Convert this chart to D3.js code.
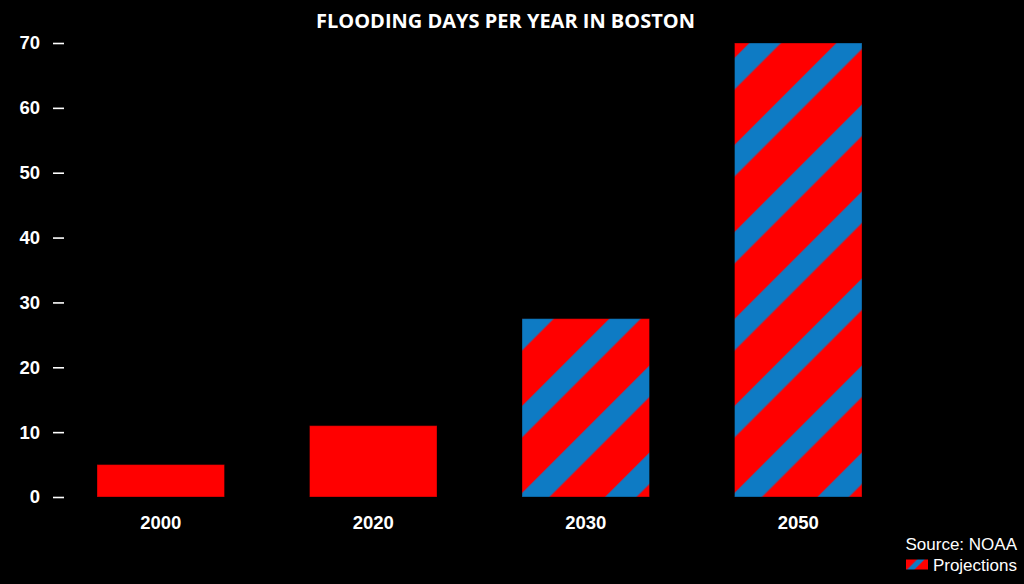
<!DOCTYPE html>
<html>
<head>
<meta charset="utf-8">
<script src="https://cdn.jsdelivr.net/npm/d3@7"></script>
<style>
  html, body { margin: 0; padding: 0; background: #000; }
  svg { display: block; }
</style>
</head>
<body>
<script>
// ---- data ----
const years = ["2000", "2020", "2030", "2050"];
const floodDays = [5, 11, 27.5, 70];
const isProjection = [false, false, true, true];
const yTicks = [0, 10, 20, 30, 40, 50, 60, 70];
const titleText = "FLOODING DAYS PER YEAR IN BOSTON";
const sourceText = "Source: NOAA";
const legendText = "Projections";

const W = 1024, H = 584;
const RED = "#ff0000", BLUE = "#0e7bc4";

const svg = d3.select("body").append("svg")
  .attr("width", W).attr("height", H)
  .style("background", "#000");

svg.append("rect").attr("width", W).attr("height", H).attr("fill", "#000");

const x = d3.scaleBand().domain(years).range([12, 947]).paddingInner(0.4).paddingOuter(0.4);
const y = d3.scaleLinear().domain([0, 70]).range([497, 43]);

const defs = svg.append("defs");
const P = 87 / Math.SQRT2; // stripe period perpendicular

const data = years.map((yr, i) => ({ year: yr, value: floodDays[i], proj: isProjection[i] }));

data.forEach((d, i) => {
  if (!d.proj) return;
  const x0 = x(d.year), y0 = y(0);
  const pat = defs.append("pattern")
    .attr("id", "stripe" + i)
    .attr("patternUnits", "userSpaceOnUse")
    .attr("width", P).attr("height", 10)
    .attr("patternTransform", `translate(${x0},${y0}) rotate(45)`);
  pat.append("rect").attr("width", P).attr("height", 10).attr("fill", RED);
  pat.append("rect").attr("x", 0).attr("width", 19.4).attr("height", 10).attr("fill", BLUE);
  pat.append("rect").attr("x", P - 2.8).attr("width", 2.8).attr("height", 10).attr("fill", BLUE);
});

// bars
svg.append("g").selectAll("rect.bar").data(data).join("rect")
  .attr("class", "bar")
  .attr("x", d => x(d.year))
  .attr("y", d => y(d.value))
  .attr("width", x.bandwidth())
  .attr("height", d => y(0) - y(d.value))
  .attr("fill", (d, i) => d.proj ? `url(#stripe${i})` : RED)
  .attr("stroke", "rgba(0,0,0,0.35)")
  .attr("stroke-width", 1);

// y axis
const yAxis = svg.append("g")
  .attr("transform", "translate(64,0)")
  .call(d3.axisLeft(y).tickValues(yTicks).tickSize(11).tickPadding(13).tickFormat(d3.format("d")));
yAxis.select(".domain").remove();
yAxis.selectAll(".tick line").attr("stroke", "#fff").attr("stroke-width", 1.6);
yAxis.selectAll(".tick text")
  .attr("fill", "#fff")
  .style("font-family", "'Liberation Sans', Arial, sans-serif")
  .style("font-weight", "bold")
  .style("font-size", "18.5px");

// x labels
const xAxis = svg.append("g")
  .attr("transform", `translate(0,${y(0)})`)
  .call(d3.axisBottom(x).tickSize(0).tickPadding(0));
xAxis.select(".domain").remove();
xAxis.selectAll(".tick text")
  .attr("fill", "#fff")
  .attr("dy", null)
  .attr("y", 31.5)
  .style("font-family", "'Liberation Sans', Arial, sans-serif")
  .style("font-weight", "bold")
  .style("font-size", "18.5px");

// title
svg.append("text")
  .attr("x", 505.5).attr("y", 27.5)
  .attr("text-anchor", "middle")
  .attr("fill", "#fff")
  .style("font-family", "'Open Sans', sans-serif")
  .style("font-weight", "bold")
  .style("font-size", "20px")
  .text(titleText);

// source + legend
svg.append("text")
  .attr("x", 1017).attr("y", 550)
  .attr("text-anchor", "end")
  .attr("fill", "#fff")
  .style("font-family", "'Liberation Sans', Arial, sans-serif")
  .style("font-size", "17px")
  .text(sourceText);

const sw = defs.append("pattern")
  .attr("id", "swatch")
  .attr("patternUnits", "userSpaceOnUse")
  .attr("width", 40).attr("height", 10)
  .attr("patternTransform", "translate(906,559.5) rotate(45)");
sw.append("rect").attr("width", 40).attr("height", 10).attr("fill", RED);
sw.append("rect").attr("x", 11 / Math.SQRT2).attr("width", 7.5 / Math.SQRT2).attr("height", 10).attr("fill", BLUE);

svg.append("rect")
  .attr("x", 906).attr("y", 559.5).attr("width", 22).attr("height", 10)
  .attr("fill", "url(#swatch)");

svg.append("text")
  .attr("x", 1017).attr("y", 571)
  .attr("text-anchor", "end")
  .attr("fill", "#fff")
  .style("font-family", "'Liberation Sans', Arial, sans-serif")
  .style("font-size", "17px")
  .text(legendText);
</script>
</body>
</html>
